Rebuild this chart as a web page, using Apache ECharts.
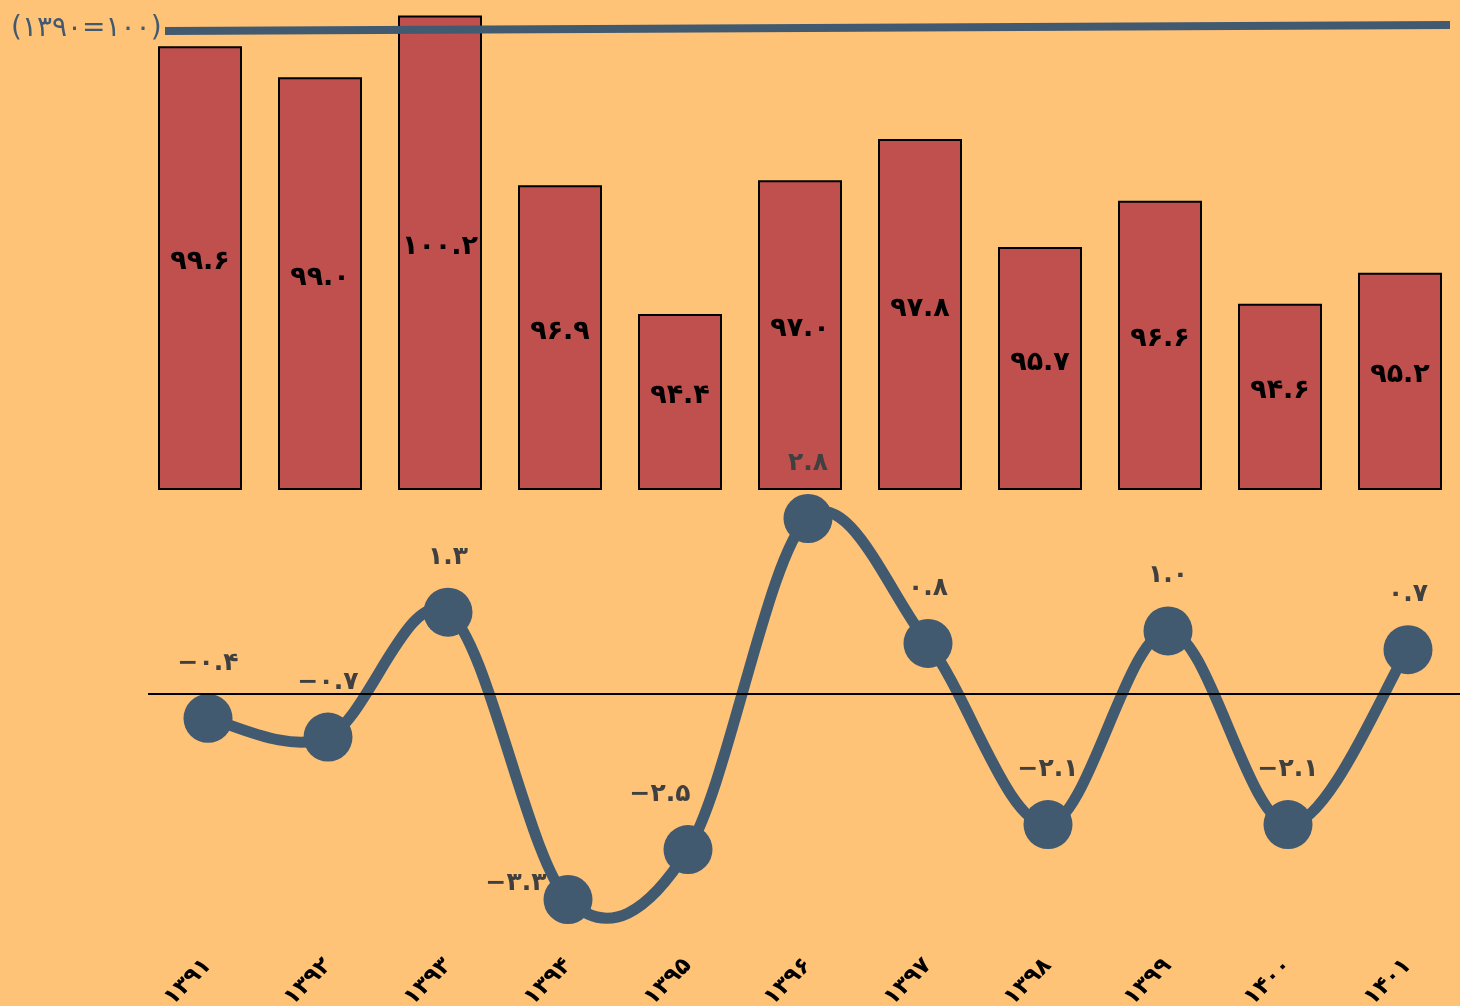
<!DOCTYPE html>
<html>
<head>
<meta charset="utf-8">
<script src="https://cdn.jsdelivr.net/npm/echarts@6/dist/echarts.min.js"></script>
<style>
html,body{margin:0;padding:0;background:#FFC378;}
#c{width:1460px;height:1006px;}
</style>
</head>
<body>
<div id="c"></div>
<script>
const years = ['۱۳۹۱','۱۳۹۲','۱۳۹۳','۱۳۹۴','۱۳۹۵','۱۳۹۶','۱۳۹۷','۱۳۹۸','۱۳۹۹','۱۴۰۰','۱۴۰۱'];
const indexValues = [99.6, 99.0, 100.2, 96.9, 94.4, 97.0, 97.8, 95.7, 96.6, 94.6, 95.2];
const changeValues = [-0.4, -0.7, 1.3, -3.3, -2.5, 2.8, 0.8, -2.1, 1.0, -2.1, 0.7];
const titleText = '(۱۳۹۰=۱۰۰)';

function fa(v) {
  const s = Number(v).toFixed(1);
  return s.replace(/-/g, '−').replace(/[0-9]/g, d => '۰۱۲۳۴۵۶۷۸۹'[+d]);
}

const BG = '#FFC378';
const BAR = '#C0504D';
const LINE = '#415A70';
const FONT = 'DejaVu Sans';

const lineData = changeValues.map((v, i) => {
  const item = { value: v };
  if (i === 3) item.label = { offset: [-52, 39] };
  if (i === 4) item.label = { offset: [-28, 0] };
  return item;
});

const n = changeValues.length;
function curveSegment(params, api) {
  const i = params.dataIndexInside;
  if (i >= n - 1) return null;
  const P = k => {
    const kk = Math.max(0, Math.min(n - 1, k));
    return api.coord([api.value(0, kk), api.value(1, kk)]);
  };
  const p0 = P(i - 1), p1 = P(i), p2 = P(i + 1), p3 = P(i + 2);
  const c1 = [p1[0] + (p2[0] - p0[0]) / 6, p1[1] + (p2[1] - p0[1]) / 6];
  const c2 = [p2[0] - (p3[0] - p1[0]) / 6, p2[1] - (p3[1] - p1[1]) / 6];
  return {
    type: 'path',
    shape: { pathData: `M${p1[0]} ${p1[1]} C${c1[0]} ${c1[1]} ${c2[0]} ${c2[1]} ${p2[0]} ${p2[1]}` },
    style: { fill: null, stroke: LINE, lineWidth: 11, lineCap: 'round' }
  };
}

const chart = echarts.init(document.getElementById('c'));
chart.setOption({
  backgroundColor: BG,
  animation: false,
  title: {
    text: titleText,
    left: 6, top: 10,
    textStyle: { fontFamily: FONT, fontSize: 28, fontWeight: 'normal', color: LINE }
  },
  grid: [
    { left: 140, right: 0, top: 0, height: 489, outerBoundsMode: 'none', containLabel: false },
    { left: 148, width: 1320, top: 506, height: 406, outerBoundsMode: 'none', containLabel: false }
  ],
  xAxis: [
    { gridIndex: 0, type: 'category', data: years, axisLine: { show: false }, axisTick: { show: false }, axisLabel: { show: false } },
    { gridIndex: 1, type: 'category', data: years, axisLine: { show: false }, axisTick: { show: false },
      axisLabel: { rotate: 45, margin: 50, fontFamily: FONT, fontSize: 23, fontWeight: 'bold', color: '#000' } }
  ],
  yAxis: [
    { gridIndex: 0, type: 'value', min: 91, max: 100.5, show: false, splitLine: { show: false } },
    { gridIndex: 1, type: 'value', min: -3.5, max: 3, show: false, splitLine: { show: false } }
  ],
  series: [
    {
      type: 'bar', xAxisIndex: 0, yAxisIndex: 0, data: indexValues,
      barWidth: '70%',
      itemStyle: { color: BAR, borderColor: '#000', borderWidth: 2 },
      label: { show: true, position: 'inside', offset: [0, -6], formatter: p => fa(p.value),
        fontFamily: FONT, fontSize: 27, fontWeight: 'bold', color: '#000' },
      markLine: {
        silent: true, symbol: 'none',
        lineStyle: { color: LINE, width: 8, type: 'solid' },
        label: { show: false },
        data: [[{ x: 165, y: 31 }, { x: 1450, y: 25 }]]
      },
      z: 2
    },
    {
      type: 'custom', xAxisIndex: 1, yAxisIndex: 1,
      data: changeValues.map((v, i) => [i, v]),
      encode: { x: 0, y: 1 },
      renderItem: curveSegment,
      silent: true,
      z: 2
    },
    {
      type: 'line', xAxisIndex: 1, yAxisIndex: 1, data: lineData,
      symbol: 'circle', symbolSize: 49,
      lineStyle: { color: LINE, width: 0, opacity: 0 },
      itemStyle: { color: LINE },
      label: { show: true, position: 'top', distance: 18, formatter: p => fa(p.value),
        fontFamily: FONT, fontSize: 25, fontWeight: 'bold', color: '#404040' },
      markLine: {
        silent: true, symbol: 'none',
        lineStyle: { color: '#000', width: 2, type: 'solid' },
        label: { show: false },
        data: [{ yAxis: 0 }]
      },
      z: 3
    }
  ]
});
</script>
</body>
</html>
